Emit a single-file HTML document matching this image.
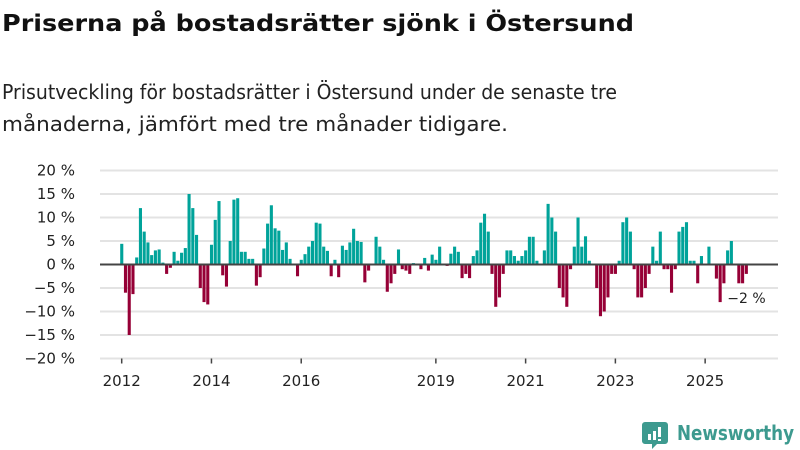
<!DOCTYPE html>
<html><head><meta charset="utf-8"><style>
html,body{margin:0;padding:0;background:#fff;}
svg{display:block;font-family:"DejaVu Sans","Liberation Sans",sans-serif;}
</style></head><body>
<svg id="chart" width="800" height="450" viewBox="0 0 800 450" xmlns="http://www.w3.org/2000/svg">
<text x="2" y="31" font-size="23" font-weight="bold" fill="#111" textLength="632" lengthAdjust="spacingAndGlyphs">Priserna på bostadsrätter sjönk i Östersund</text>
<text x="2" y="99" font-size="20" fill="#222" textLength="615" lengthAdjust="spacingAndGlyphs">Prisutveckling för bostadsrätter i Östersund under de senaste tre</text>
<text x="2" y="131" font-size="20" fill="#222" textLength="506" lengthAdjust="spacingAndGlyphs">månaderna, jämfört med tre månader tidigare.</text>
<g id="grid"></g>
<g id="yaxis"></g>
<g id="bars"></g>
<g id="xaxis"></g>
<text id="lastlabel" font-size="14" fill="#222">−2 %</text>
<g>
<path d="M645 422 h20 a3 3 0 0 1 3 3 v16 a3 3 0 0 1 -3 3 h-8 l-5 5 v-5 h-7 a3 3 0 0 1 -3 -3 v-16 a3 3 0 0 1 3 -3z" fill="#3d9a8f"/>
<rect x="648" y="434" width="3" height="6" fill="#fff"/><rect x="653" y="431" width="3" height="9" fill="#fff"/><rect x="658" y="427" width="3" height="10" fill="#fff"/><rect x="658" y="439" width="3" height="2" fill="#fff"/>
<text x="677" y="440" font-size="20" font-weight="bold" fill="#3d9a8f" textLength="117" lengthAdjust="spacingAndGlyphs">Newsworthy</text>
</g>
</svg>
<script>
const yTicks = [20,15,10,5,0,-5,-10,-15,-20];
const yTickLabels = ["20 %","15 %","10 %","5 %","0 %","−5 %","−10 %","−15 %","−20 %"];
const xTickIndex = [0,24,48,84,108,132,156];
const xTickLabels = ["2012","2014","2016","2019","2021","2023","2025"];
const values = [4.4,-6,-15,-6.3,1.5,12,7,4.7,2,3,3.2,0.4,-2,-0.7,2.7,0.8,2.5,3.5,15,12,6.3,-5,-8,-8.5,
4.2,9.5,13.5,-2.3,-4.7,5,13.8,14.1,2.7,2.7,1.2,1.2,-4.5,-2.7,3.4,8.7,12.6,7.7,7.2,3.1,4.7,1.2,0,-2.5,
1,2.2,3.8,5,8.9,8.7,3.8,2.9,-2.5,1,-2.7,4,3.1,4.7,7.6,5,4.8,-3.8,-1.3,0,5.9,3.8,1,-5.8,-4,-2,
3.2,-1,-1.3,-2,0.3,0,-1,1.4,-1.3,2.1,1,3.8,0,-0.3,2.3,3.8,2.7,-2.9,-2,-2.9,1.8,3,8.9,10.8,7,-2,
-9,-7,-2,3,3,1.8,0.8,1.8,3,5.9,5.9,0.8,0,3,12.9,10,7,-5,-7,-9,-1,3.8,10,3.8,6,0.8,0,-5,
-11,-10,-7,-2,-2,0.8,9,10,7,-1,-7,-7,-5,-2,3.8,0.8,7,-1,-1,-6,-1,7,8,9,0.8,0.8,-4,1.8,
0,3.8,0,-3,-8,-4,3,5,0,-4,-4,-2];
const NS="http://www.w3.org/2000/svg";
const x0=100,x1=778,yTop=170.5,yBot=358.5;
const y=v=>yTop+(20-v)*(yBot-yTop)/40;
const step=3.74, firstX=121.7;
const xc=i=>firstX+i*step;
function mk(t,a,p){const e=document.createElementNS(NS,t);for(const k in a)e.setAttribute(k,a[k]);p.appendChild(e);return e;}
const grid=document.getElementById('grid'),ya=document.getElementById('yaxis'),bars=document.getElementById('bars'),xa=document.getElementById('xaxis');
yTicks.forEach((t,k)=>{
  if(t!==0){const l=mk('line',{x1:x0,x2:x1,y1:y(t),y2:y(t),stroke:'#e3e3e3','stroke-width':2},grid);
  
  }
  const tx=mk('text',{x:75,y:y(t)+5,'text-anchor':'end','font-size':15,fill:'#222'},ya);
  tx.textContent=yTickLabels[k];
  
  
});
values.forEach((v,i)=>{
  if(v===0)return;
  const top=v>0?y(v):y(0), h=Math.abs(y(v)-y(0));
  const r=mk('rect',{x:xc(i)-1.5,y:top,width:3.1,height:h,fill:v>0?'#00a39a':'#960036'},bars);
  
  
});
const zl=mk('line',{x1:x0,x2:x1,y1:y(0),y2:y(0),stroke:'#444','stroke-width':2},bars);


xTickIndex.forEach((ix,k)=>{
  const tk=mk('line',{x1:xc(ix),x2:xc(ix),y1:yBot,y2:yBot+5,stroke:'#444','stroke-width':1.5},xa);
  
  
  const tx=mk('text',{x:xc(ix),y:386,'text-anchor':'middle','font-size':15,fill:'#222'},xa);
  tx.textContent=xTickLabels[k];
  
  
});
const ll=document.getElementById('lastlabel');
ll.setAttribute('x',xc(values.length-1)-19);
ll.setAttribute('y',y(values[values.length-1])+29);
</script>
</body></html>
